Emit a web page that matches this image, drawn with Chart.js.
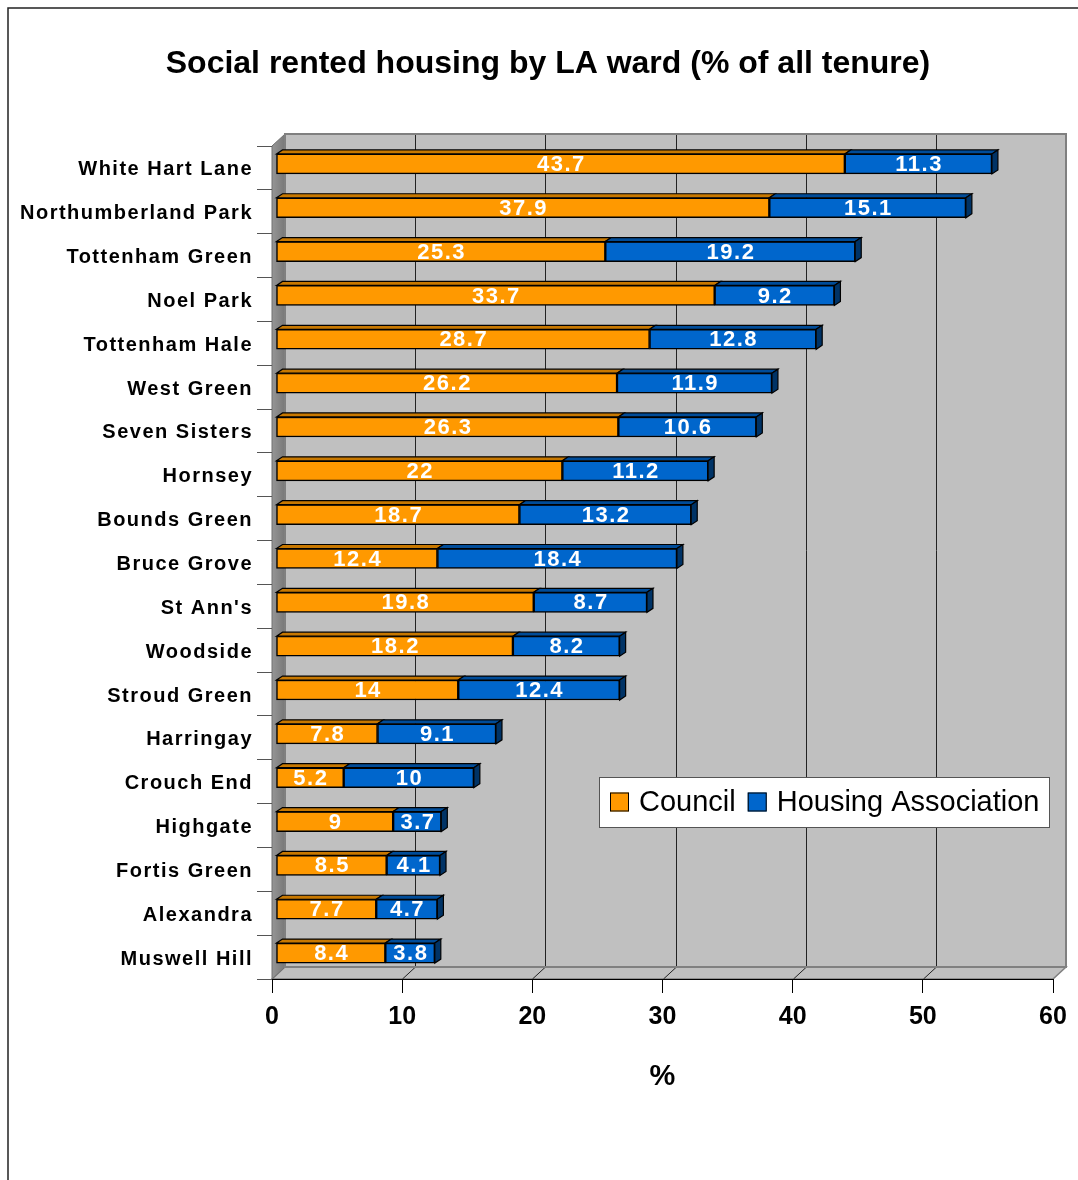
<!DOCTYPE html>
<html>
<head>
<meta charset="utf-8">
<script src="https://cdn.jsdelivr.net/npm/chart.js@4.4.1/dist/chart.umd.min.js"></script>
<style>
html,body{margin:0;padding:0;background:#fff;overflow:hidden}
canvas{display:block}
</style>
</head>
<body>
<canvas id="c" width="1078" height="1180"></canvas>
<script>
// ---- data ----
const wards = ["White Hart Lane","Northumberland Park","Tottenham Green","Noel Park","Tottenham Hale","West Green","Seven Sisters","Hornsey","Bounds Green","Bruce Grove","St Ann's","Woodside","Stroud Green","Harringay","Crouch End","Highgate","Fortis Green","Alexandra","Muswell Hill"];
const councilValues = [43.7,37.9,25.3,33.7,28.7,26.2,26.3,22,18.7,12.4,19.8,18.2,14,7.8,5.2,9,8.5,7.7,8.4];
const housingAssociationValues = [11.3,15.1,19.2,9.2,12.8,11.9,10.6,11.2,13.2,18.4,8.7,8.2,12.4,9.1,10,3.7,4.1,4.7,3.8];
const seriesNames = ["Council","Housing Association"];
const xTickValues = [0,10,20,30,40,50,60];
const chartTitle = "Social rented housing by LA ward (% of all tenure)";
const axisTitle = "%";

// ---- styles ----
const FONT = "'Liberation Sans', Arial, Helvetica, sans-serif";
const frontColors = ["#FF9900","#0066CC"];
const topColors = ["#C87800","#004C99"];
const sideColors = ["#A06000","#003366"];
const WALL = {dx:13, dy:12};
const BAR = {ox:4, oy:-4, dx:6, dy:4};

Chart.defaults.font.family = FONT;

function poly(ctx, pts, fill, stroke, lw){
  ctx.beginPath();
  ctx.moveTo(pts[0][0], pts[0][1]);
  for (let i=1;i<pts.length;i++) ctx.lineTo(pts[i][0], pts[i][1]);
  ctx.closePath();
  if (fill){ ctx.fillStyle = fill; ctx.fill(); }
  if (stroke){ ctx.strokeStyle = stroke; ctx.lineWidth = lw || 1; ctx.stroke(); }
}

const threeD = {
  id: 'threeD',
  afterLayout(chart){
    // centre the title over the same span as the original picture
    if (chart.titleBlock) chart.titleBlock.left = 43;
  },
  beforeDraw(chart){
    const ctx = chart.ctx;
    ctx.letterSpacing = '0px';
    const a = chart.chartArea, xs = chart.scales.x;
    const L=a.left, R=a.right, T=a.top, B=a.bottom, dx=WALL.dx, dy=WALL.dy;
    ctx.save();
    // outer frame
    ctx.strokeStyle = '#222'; ctx.lineWidth = 1.5;
    ctx.beginPath(); ctx.moveTo(8,1180); ctx.lineTo(8,8); ctx.lineTo(1078,8); ctx.stroke();
    // back wall
    ctx.fillStyle = '#C0C0C0';
    ctx.fillRect(L+dx, T-dy, R-L, B-T);
    // floor
    poly(ctx, [[L,B],[L+dx,B-dy],[R+dx,B-dy],[R,B]], '#C0C0C0', '#808080', 1.5);
    // left wall
    const g = ctx.createLinearGradient(L,0,L+dx,0);
    g.addColorStop(0,'#969696'); g.addColorStop(1,'#787878');
    poly(ctx, [[L,T],[L+dx,T-dy],[L+dx,B-dy],[L,B]], g, '#707070', 1);
    // gridlines on back wall + floor
    ctx.strokeStyle = '#222'; ctx.lineWidth = 1;
    xs.ticks.forEach(t => {
      if (t.value === xs.min || t.value === xs.max) return;
      const px = Math.round(xs.getPixelForValue(t.value)) + 0.5;
      ctx.beginPath();
      ctx.moveTo(px+dx, T-dy); ctx.lineTo(px+dx, B-dy); ctx.lineTo(px, B);
      ctx.stroke();
    });
    // back wall border
    ctx.strokeStyle = '#808080'; ctx.lineWidth = 2;
    ctx.strokeRect(L+dx, T-dy, R-L, B-T);
    ctx.restore();
  },
  beforeDatasetsDraw(chart){
    chart.ctx.save();
    chart.ctx.translate(BAR.ox, BAR.oy);
  },
  afterDatasetsDraw(chart){
    const ctx = chart.ctx;
    const nds = chart.data.datasets.length;
    chart.data.datasets.forEach((ds, di) => {
      const meta = chart.getDatasetMeta(di);
      meta.data.forEach((bar) => {
        const p = bar.getProps(['x','y','base','height'], true);
        const left = Math.min(p.x,p.base), right = Math.max(p.x,p.base);
        const top = p.y - p.height/2, bottom = p.y + p.height/2;
        poly(ctx, [[left,top],[left+BAR.dx,top-BAR.dy],[right+BAR.dx,top-BAR.dy],[right,top]], topColors[di], '#000', 1.2);
        if (di === nds-1){
          poly(ctx, [[right,top],[right+BAR.dx,top-BAR.dy],[right+BAR.dx,bottom-BAR.dy],[right,bottom]], sideColors[di], '#000', 1.2);
        }
      });
    });
    // value labels
    ctx.save();
    ctx.letterSpacing = '1.5px';
    ctx.font = "bold 22px " + FONT;
    ctx.fillStyle = '#fff';
    ctx.textAlign = 'center';
    ctx.textBaseline = 'middle';
    chart.data.datasets.forEach((ds, di) => {
      const meta = chart.getDatasetMeta(di);
      meta.data.forEach((bar, i) => {
        const p = bar.getProps(['x','y','base'], true);
        ctx.fillText(String(ds.data[i]), (p.x+p.base)/2 + 0.75, p.y + 1);
      });
    });
    ctx.restore();
    ctx.restore();
    ctx.letterSpacing = '1.5px';
  },
  afterDraw(chart){
    const ctx = chart.ctx;
    ctx.save();
    ctx.letterSpacing = '0px';
    const bx = 599, by = 777, bw = 450, bh = 50;
    ctx.fillStyle = '#fff'; ctx.fillRect(bx, by, bw, bh);
    ctx.strokeStyle = '#555'; ctx.lineWidth = 1; ctx.strokeRect(bx+0.5, by+0.5, bw, bh);
    ctx.font = "29px " + FONT;
    ctx.textBaseline = 'middle'; ctx.textAlign = 'left';
    let x = 610;
    const cy = by + bh/2;
    chart.data.datasets.forEach((ds, di) => {
      ctx.fillStyle = ds.backgroundColor;
      ctx.fillRect(x, cy-9.5, 19, 19);
      ctx.strokeStyle = '#000'; ctx.lineWidth = 1;
      ctx.strokeRect(x+0.5, cy-9.5+0.5, 18, 18);
      ctx.fillStyle = '#000';
      ctx.fillText(ds.label, x+29, cy+1);
      x += 29 + ctx.measureText(ds.label).width + 12;
    });
    ctx.restore();
  }
};

new Chart(document.getElementById('c'), {
  type: 'bar',
  data: {
    labels: wards,
    datasets: [
      { label: seriesNames[0], data: councilValues, backgroundColor: frontColors[0] },
      { label: seriesNames[1], data: housingAssociationValues, backgroundColor: frontColors[1] }
    ]
  },
  options: {
    indexAxis: 'y',
    responsive: false,
    animation: false,
    devicePixelRatio: 1,
    layout: { padding: { left: 10, right: 25, top: 0, bottom: 0 } },
    datasets: { bar: { barThickness: 20, borderWidth: 1.5, borderColor: '#000', borderSkipped: false, clip: false } },
    plugins: {
      legend: { display: false },
      tooltip: { enabled: false },
      title: {
        display: true, text: chartTitle, color: '#000',
        font: { family: FONT, size: 32, weight: 'bold' },
        padding: { top: 44.8, bottom: 62.8 }
      }
    },
    scales: {
      x: {
        stacked: true,
        min: xTickValues[0], max: xTickValues[xTickValues.length-1],
        afterFit(s){ s.height = 201; },
        ticks: { stepSize: xTickValues[1]-xTickValues[0], color: '#000', padding: 9, font: { family: FONT, size: 25, weight: 'bold' } },
        grid: { drawOnChartArea: false, tickLength: 14, color: '#000' },
        border: { display: true, color: '#000', width: 1 },
        title: { display: true, text: axisTitle, color: '#000', font: { family: FONT, size: 29, weight: 'bold' }, padding: { top: 0, bottom: 85.6 } }
      },
      y: {
        stacked: true,
        afterFit(s){ s.width = 262; },
        grid: { offset: true, drawOnChartArea: false, tickLength: 15, color: '#555' },
        border: { display: false },
        ticks: { z: 1, autoSkip: false, labelOffset: 2, color: '#000', padding: 4, font: { family: FONT, size: 20, weight: 'bold' } }
      }
    }
  },
  plugins: [threeD]
});
</script>
</body>
</html>
